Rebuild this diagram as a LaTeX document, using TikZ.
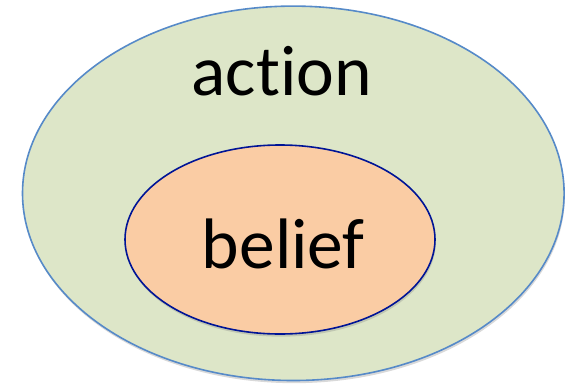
\documentclass[tikz,border=0pt]{standalone}
\usepackage{xcolor}
\usepackage{fontspec}
\setmainfont{Carlito}[Ligatures={NoCommon,NoContextual}]
\usepackage{tikz}
\usetikzlibrary{shadows}

\definecolor{actionfill}{RGB}{221,230,200}
\definecolor{actionline}{RGB}{86,138,200}
\definecolor{belieffill}{RGB}{250,204,164}
\definecolor{beliefline}{RGB}{0,20,150}

\tikzset{
  setshade/.style={drop shadow={opacity=0.3, shadow xshift=0.6pt, shadow yshift=-2pt}},
  setlabel/.style={inner sep=0.75pt, font=\fontsize{53.6}{60}\selectfont, text=black}
}

\begin{document}
\begin{tikzpicture}[x=0.75pt,y=0.75pt,yscale=-1,xscale=1]
\useasboundingbox (0,0) rectangle (568,383);

%Shape: Ellipse [outer]
\draw [color=actionline, line width=1.2pt, fill=actionfill, setshade] (293.3,193.3) ellipse [x radius=270.8, y radius=187.2];
%Shape: Ellipse [inner]
\draw [color=beliefline, line width=1.2pt, fill=belieffill, setshade] (280,239.5) ellipse [x radius=155, y radius=94.5];

% Text Node
\node [setlabel, anchor=base] (action) at (281.7,95) {action};
% Text Node
\node [setlabel, anchor=base] (belief) at (283.3,268) {belief};

\end{tikzpicture}
\end{document}
